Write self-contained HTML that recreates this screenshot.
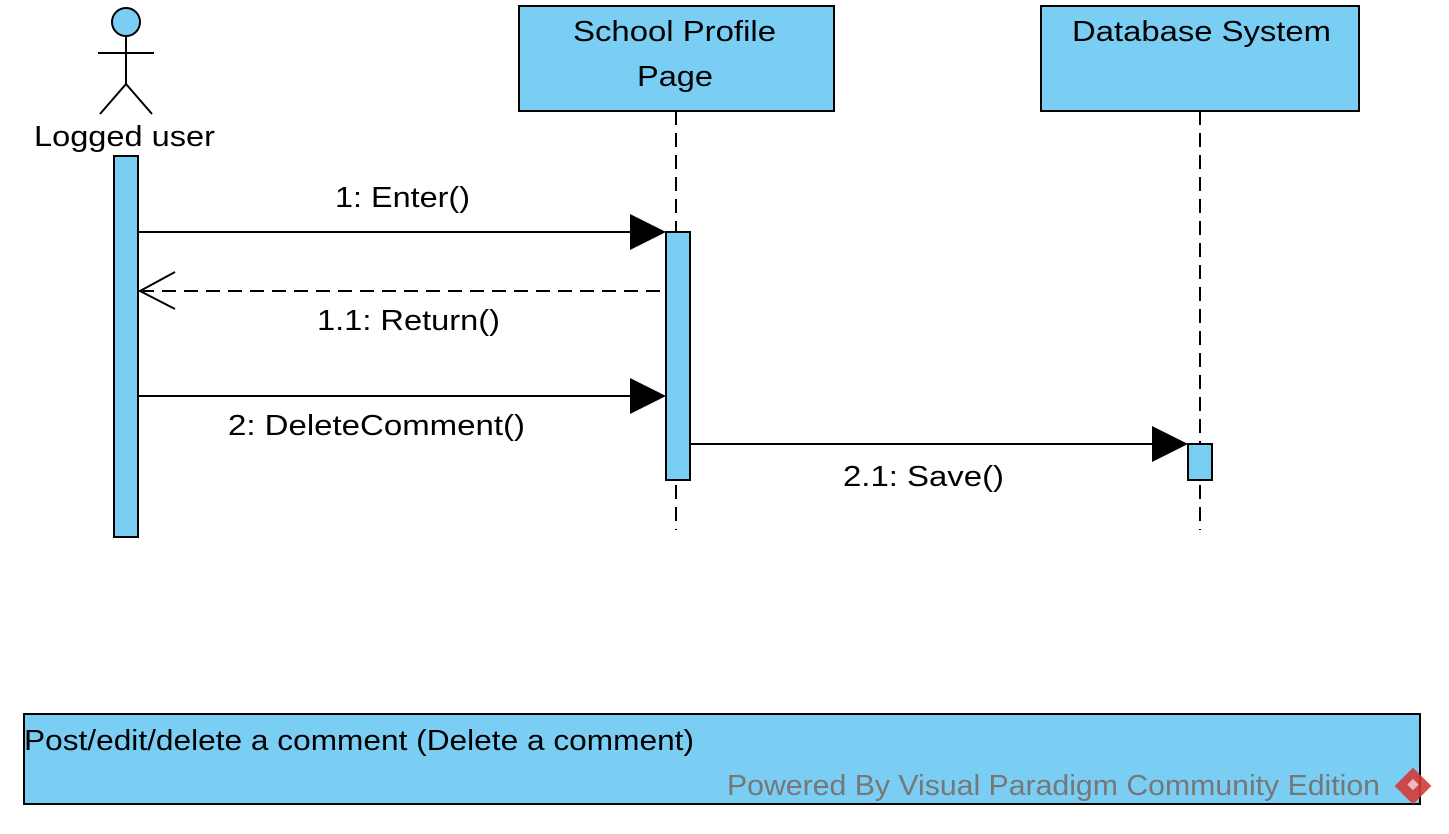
<!DOCTYPE html>
<html><head><meta charset="utf-8"><style>
html,body{margin:0;padding:0;background:#fff;}
svg{display:block;}
text{font-family:"Liberation Sans",Arial,sans-serif;}
</style></head><body>
<svg width="1449" height="834" viewBox="0 0 1449 834" xmlns="http://www.w3.org/2000/svg">
<circle cx="126" cy="22" r="14" fill="#7acef4" stroke="#000" stroke-width="2"/>
<line x1="126" y1="36" x2="126" y2="84" stroke="#000" stroke-width="2"/>
<line x1="98" y1="53" x2="154" y2="53" stroke="#000" stroke-width="2"/>
<line x1="126" y1="84" x2="100" y2="114" stroke="#000" stroke-width="2"/>
<line x1="126" y1="84" x2="152" y2="114" stroke="#000" stroke-width="2"/>
<text x="34" y="146" font-size="29" textLength="181" lengthAdjust="spacingAndGlyphs">Logged user</text>
<rect x="114" y="156" width="24" height="381" fill="#7acef4" stroke="#000" stroke-width="2"/>
<rect x="519" y="6" width="315" height="105" fill="#7acef4" stroke="#000" stroke-width="2"/>
<text x="573" y="41" font-size="29" textLength="203" lengthAdjust="spacingAndGlyphs">School Profile</text>
<text x="637" y="86" font-size="29" textLength="76" lengthAdjust="spacingAndGlyphs">Page</text>
<line x1="676" y1="111" x2="676" y2="530" stroke="#000" stroke-width="2" stroke-dasharray="14,8"/>
<rect x="1041" y="6" width="318" height="105" fill="#7acef4" stroke="#000" stroke-width="2"/>
<text x="1072" y="41" font-size="29" textLength="259" lengthAdjust="spacingAndGlyphs">Database System</text>
<line x1="1200" y1="111" x2="1200" y2="530" stroke="#000" stroke-width="2" stroke-dasharray="14,8"/>
<rect x="666" y="232" width="24" height="248" fill="#7acef4" stroke="#000" stroke-width="2"/>
<rect x="1188" y="444" width="24" height="36" fill="#7acef4" stroke="#000" stroke-width="2"/>
<line x1="138" y1="232" x2="640" y2="232" stroke="#000" stroke-width="2"/>
<polygon points="630,214 666,232 630,250" fill="#000"/>
<text x="335" y="207" font-size="29" textLength="135" lengthAdjust="spacingAndGlyphs">1: Enter()</text>
<line x1="140" y1="291" x2="666" y2="291" stroke="#000" stroke-width="2" stroke-dasharray="14,8"/>
<polyline points="175,272 140,291 175,309" fill="none" stroke="#000" stroke-width="2"/>
<text x="317" y="330" font-size="29" textLength="183" lengthAdjust="spacingAndGlyphs">1.1: Return()</text>
<line x1="138" y1="396" x2="640" y2="396" stroke="#000" stroke-width="2"/>
<polygon points="630,378 666,396 630,414" fill="#000"/>
<text x="228" y="435" font-size="29" textLength="297" lengthAdjust="spacingAndGlyphs">2: DeleteComment()</text>
<line x1="690" y1="444" x2="1160" y2="444" stroke="#000" stroke-width="2"/>
<polygon points="1152,426 1188,444 1152,462" fill="#000"/>
<text x="843" y="486" font-size="29" textLength="161" lengthAdjust="spacingAndGlyphs">2.1: Save()</text>
<rect x="24" y="714" width="1396" height="90" fill="#7acef4" stroke="#000" stroke-width="2"/>
<text x="24" y="750" font-size="29" textLength="670" lengthAdjust="spacingAndGlyphs">Post/edit/delete a comment (Delete a comment)</text>
<text x="727" y="795" font-size="29" fill="#777" textLength="653" lengthAdjust="spacingAndGlyphs">Powered By  Visual Paradigm Community Edition</text>
<g transform="translate(1413,786) rotate(45)">
<rect x="-13" y="-13" width="26" height="26" fill="#d33b3b" opacity="0.9"/>
<rect x="-5" y="-5" width="8" height="8" fill="#f3b9b9"/>
</g>
</svg>
</body></html>
